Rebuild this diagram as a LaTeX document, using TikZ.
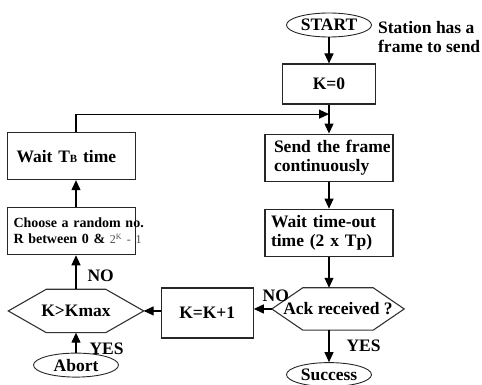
\documentclass[tikz,border=0pt]{standalone}
\usepackage{fontspec}
\setmainfont{Liberation Serif}
\usetikzlibrary{arrows.meta,positioning,shapes.geometric,calc}

% outline of a flat hexagon round a (rectangle) node
\newcommand{\hexoutline}[2]{%
  \draw[hexline] (#1.west) -- ([xshift=#2]#1.north west) -- ([xshift=-#2]#1.north east)
    -- (#1.east) -- ([xshift=-#2]#1.south east) -- ([xshift=#2]#1.south west) -- cycle;}

\begin{document}
\begin{tikzpicture}[
    x=1pt, y=-1pt,
    node distance=28pt,
    every node/.style={font=\bfseries\fontsize{17.5}{19}\selectfont},
    stepbox/.style={rectangle,draw=black!85,line width=1.1pt,minimum height=47pt,
      text width=112pt,inner xsep=8pt,align=left},
    countbox/.style={rectangle,draw=black!85,line width=1.1pt,minimum height=40pt,
      minimum width=93pt,align=center},
    term/.style={ellipse,draw=black!85,line width=0.9pt,minimum width=85pt,
      minimum height=24pt,inner sep=0pt},
    decide/.style={rectangle,inner sep=0pt,minimum height=43pt},
    hexline/.style={draw=black!80,line width=1.1pt},
    lbl/.style={inner sep=1pt},
    arrow/.style={-{Triangle[length=10pt,width=9pt]},line width=1.1pt}
  ]
    \useasboundingbox (0,0) rectangle (482,385);

    % main column
    \node[term] (start) at (329,25) {START};
    \node[lbl,align=left,anchor=west] (station) at ([xshift=5pt,yshift=-12pt]start.east)
      {Station has a\\frame to send};
    \node[countbox,below=26pt of start] (kzero) {K=0};
    \node[stepbox,text width=110pt,inner xsep=9pt,below=29pt of kzero] (send)
      {\mbox{Send the frame}\\\mbox{continuously}};
    \node[stepbox,text width=116pt,inner xsep=6pt,below=27pt of send] (timeout)
      {\mbox{Wait time-out}\\\mbox{time (2 x Tp)}};
    \node[decide,minimum width=132pt,minimum height=42pt,below=31pt of timeout,xshift=9pt]
      (ack) {Ack received ?};
    \node[term,below=32pt of ack,xshift=-9pt] (success) {Success};

    % retry branch
    \node[countbox,minimum width=92pt,minimum height=50pt,left=18pt of ack,yshift=-4pt]
      (kplus) {K=K+1};
    \node[decide,minimum width=135pt,left=17pt of kplus,yshift=2pt] (kmax) {K>Kmax};
    \node[term,below=20pt of kmax] (abort) {Abort};
    \node[stepbox,text width=116pt,inner xsep=6pt,above=34pt of kmax,xshift=-4.5pt,
      font=\bfseries\fontsize{14}{16}\selectfont] (choose)
      {\mbox{Choose a random no.}\\\mbox{R between 0 \& {\mdseries\color{black!70}\fontsize{12}{12}\selectfont 2\textsuperscript{K} - 1}}};
    \node[stepbox,text width=110pt,inner xsep=9pt,above=27pt of choose] (waittb)
      {Wait T{\fontsize{11}{11}\selectfont B} time};

    \hexoutline{ack}{31pt}
    \hexoutline{kmax}{38pt}

    \coordinate (merge) at ($(kzero.south)!0.33!(send.north)$);

    \draw[arrow] (start) -- (kzero);
    \draw[arrow] (kzero) -- (send);
    \draw[arrow] (send) -- (timeout);
    \draw[arrow] (timeout.south) -- (timeout.south |- ack.north);
    \draw[arrow] (timeout.south |- ack.south) -- node[lbl,right=16pt,pos=0.5]{YES} (success);
    \draw[arrow] (ack.west) -- node[lbl,above=6pt,pos=0,xshift=4pt]{NO} (ack.west -| kplus.east);
    \draw[arrow] (kplus.west |- kmax.east) -- (kmax.east);
    \draw[arrow] (abort) -- node[lbl,right=12pt,pos=0.2]{YES} (kmax);
    \draw[arrow] (kmax) -- node[lbl,right=10pt,pos=0.4]{NO} (kmax.north |- choose.south);
    \draw[arrow] (choose.north -| kmax) -- (waittb.south -| kmax);
    \draw[arrow] (waittb.north -| kmax) |- (merge);
  \end{tikzpicture}
\end{document}
